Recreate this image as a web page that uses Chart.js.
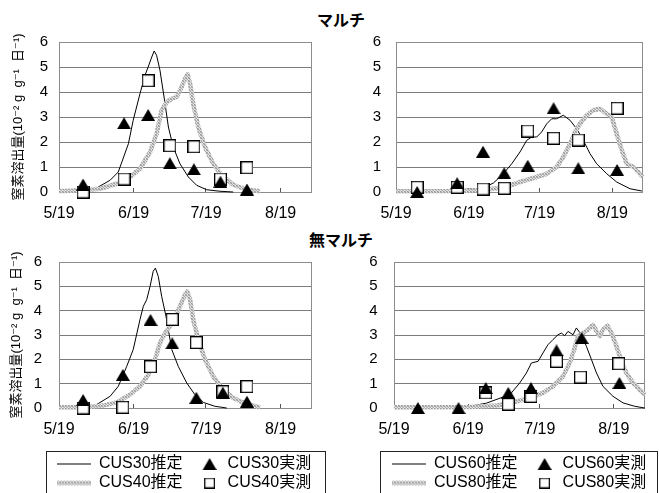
<!DOCTYPE html>
<html lang="ja">
<head>
<meta charset="utf-8">
<title>窒素溶出量</title>
<script src="https://cdn.jsdelivr.net/npm/chart.js@4.4.1/dist/chart.umd.min.js"></script>
<style>
  html, body { margin: 0; padding: 0; background: #fff; overflow: hidden; }
  body { width: 659px; height: 493px; position: relative; }
  canvas { position: absolute; }
  .section { position: absolute; left: 0; width: 682px; text-align: center;
             font: bold 16px 'Noto Sans CJK JP', sans-serif; color: #000; line-height: 20px; }
</style>
</head>
<body>
<div class="section" style="top:9px">マルチ</div>
<div class="section" style="top:229px">無マルチ</div>
<canvas id="c1" width="330" height="226" style="left:0;top:0"></canvas>
<canvas id="c2" width="329" height="226" style="left:330px;top:0"></canvas>
<canvas id="c3" width="330" height="275" style="left:0;top:226px"></canvas>
<canvas id="c4" width="329" height="275" style="left:330px;top:226px"></canvas>
<script>
// x axis: days counted from 5/19
const tickDays = [0, 31, 61, 92];
const tickLabels = ['5/19', '6/19', '7/19', '8/19'];
const dayMax = 105;
const yTitle = '窒素溶出量(10⁻² g  g⁻¹  日⁻¹)';

// ---- マルチ, CUS30 / CUS40 ----
const m30EstDays = [5, 8.7, 15.6, 21.2, 24.6, 28.8, 30.8, 33.6, 35.7, 37, 38.5, 39.5, 40.5, 41.9, 43.6, 45.4, 47.4, 50.2, 53.7, 57.1, 61.3, 66.8, 72.3];
const m30EstVals = [0, 0.04, 0.16, 0.47, 0.8, 1.93, 2.87, 3.93, 4.67, 5.0, 5.4, 5.64, 5.47, 4.87, 3.8, 2.6, 1.8, 1.13, 0.6, 0.27, 0.09, 0.03, 0];
const m40EstDays = [0, 10, 17, 23.9, 29.5, 33.6, 37.8, 40.5, 42.6, 44.7, 46.8, 48.8, 50.9, 52.3, 53.4, 54.4, 55.7, 57.8, 60.6, 64, 67.5, 72.3, 77.9, 83.4];
const m40EstVals = [0.03, 0.07, 0.13, 0.33, 0.6, 0.93, 1.6, 2.33, 3.27, 3.6, 3.73, 3.8, 4.2, 4.53, 4.71, 4.33, 3.53, 2.6, 1.8, 1.13, 0.67, 0.29, 0.09, 0.03];
const mObsDaysA = [10, 27, 37, 46, 56, 67, 78];
const m30Obs = [0.3, 2.75, 3.08, 1.15, 0.91, 0.41, 0.1];
const m40Obs = [0, 0.52, 4.45, 1.85, 1.81, 0.52, 0.97];

// ---- マルチ, CUS60 / CUS80 ----
const m60EstDays = [0, 27.2, 37.1, 41.4, 45.6, 49.2, 52.7, 55.6, 57.7, 59.8, 61.9, 64.1, 66.2, 68.3, 71.1, 74, 76.8, 79.6, 82.5, 85.3, 89.6, 93.8, 99.5, 104.5];
const m60EstVals = [0, 0.09, 0.16, 0.36, 0.73, 1.13, 1.6, 2.07, 2.2, 2.2, 2.4, 2.73, 2.93, 2.93, 3.07, 2.87, 2.53, 2.07, 1.53, 1.13, 0.73, 0.4, 0.13, 0.04];
const m80EstDays = [0, 28.6, 37.1, 45.6, 52.7, 59.8, 64.1, 68.3, 71.1, 74, 76.1, 78.2, 81.1, 83.9, 86.7, 89.6, 91.7, 93.8, 96, 98.1, 100.9, 103, 104.9];
const m80EstVals = [0.03, 0.04, 0.09, 0.17, 0.4, 0.6, 0.73, 1.0, 1.4, 1.93, 2.4, 2.73, 3.07, 3.27, 3.33, 3.13, 3.0, 2.33, 1.67, 1.13, 1.0, 0.8, 0.6];
const mObsDaysB = [9, 26, 37, 46, 56, 67, 77.5, 94];
const m60Obs = [0, 0.35, 1.61, 0.75, 1.05, 3.35, 0.95, 0.88];
const m80Obs = [0.19, 0.19, 0.12, 0.15, 2.44, 2.15, 2.08, 3.35];

// ---- 無マルチ, CUS30 / CUS40 ----
const n30EstDays = [5, 10, 15.6, 21.2, 24.6, 28.1, 30.8, 33.6, 35, 36.4, 37.8, 39.1, 40, 41.2, 42.6, 44.4, 46.8, 49.5, 53, 56.4, 59.9, 64.7, 69.6];
const n30EstVals = [0, 0, 0.14, 0.48, 0.89, 1.71, 2.4, 3.63, 4.18, 4.45, 5.0, 5.62, 5.75, 5.41, 4.59, 3.77, 2.4, 1.71, 1.03, 0.55, 0.23, 0.07, 0];
const n40EstDays = [0, 10, 18.4, 23.9, 29.5, 33.6, 37.1, 39.8, 41.9, 44, 46.1, 48.1, 50.2, 52.3, 53.2, 54.4, 55.7, 57.8, 60.6, 64, 68.2, 72.3, 77.9, 83.4];
const n40EstVals = [0.03, 0.03, 0.1, 0.23, 0.55, 0.89, 1.37, 1.99, 2.67, 3.08, 3.36, 3.7, 4.18, 4.66, 4.79, 4.45, 3.63, 2.81, 1.99, 1.3, 0.75, 0.41, 0.16, 0.03];
const nObsDaysA = [10, 26.5, 38, 47, 57, 68, 78];
const n30Obs = [0.33, 1.36, 3.62, 2.66, 0.42, 0.63, 0.26];
const n40Obs = [0, 0.03, 1.7, 3.64, 2.69, 0.67, 0.88];

// ---- 無マルチ, CUS60 / CUS80 ----
const n60EstDays = [0, 31.7, 38.7, 45.6, 49.1, 52.6, 55.4, 57.5, 60.3, 62.3, 64.4, 66.5, 68.6, 70, 71.4, 72.8, 74.9, 76.3, 78.4, 80.5, 82.6, 84.7, 87.4, 91.6, 95.8, 100.7, 104.9];
const n60EstVals = [0, 0.07, 0.2, 0.45, 0.62, 1.03, 1.44, 1.85, 1.92, 2.26, 2.6, 2.81, 3.01, 3.08, 2.97, 3.15, 3.01, 3.29, 3.01, 2.53, 1.99, 1.44, 0.89, 0.48, 0.21, 0.07, 0];
const n80EstDays = [0, 31.7, 43.3, 51.2, 56.8, 62.3, 66.5, 70.7, 73.5, 75.6, 77, 79.1, 81.2, 83.3, 84.7, 86.1, 87.4, 89.3, 91, 93.1, 95.1, 97.2, 100, 102.8, 105];
const n80EstVals = [0.03, 0.04, 0.1, 0.27, 0.41, 0.62, 0.89, 1.3, 1.85, 2.47, 2.95, 3.08, 3.22, 3.42, 3.15, 2.95, 3.22, 3.38, 3.08, 2.53, 1.92, 1.44, 1.03, 0.75, 0.55];
const n60ObsDays = [10, 27, 38.4, 47.8, 57.3, 68, 78.5, 94.3];
const n60Obs = [0, 0, 0.82, 0.62, 0.82, 2.37, 2.88, 1.03];
const n80ObsDays = [38.4, 47.8, 57.3, 68, 78, 94];
const n80Obs = [0.62, 0.16, 0.48, 1.92, 1.27, 1.82];

const FONT = "'Liberation Sans', 'Noto Sans CJK JP', 'DejaVu Sans', sans-serif";
Chart.defaults.font.family = FONT;
Chart.defaults.color = '#000';

const toPoints = (days, vals) => days.map((d, i) => ({ x: d, y: vals[i] }));

// textured grey stroke used for the second estimate curve
function grayPattern(ctx) {
  const p = document.createElement('canvas');
  p.width = 3; p.height = 3;
  const g = p.getContext('2d');
  const cols = [['#9c9c9c', '#d4d4d4', '#b8b8b8'],
                ['#d4d4d4', '#aeaeae', '#e6e6e6'],
                ['#b8b8b8', '#e6e6e6', '#969696']];
  for (let y = 0; y < 3; y++) for (let x = 0; x < 3; x++) { g.fillStyle = cols[y][x]; g.fillRect(x, y, 1, 1); }
  return ctx.createPattern(p, 'repeat');
}

function triangleGlyph(shift) {
  const w = 14, h = 12;
  const c = document.createElement('canvas');
  c.width = w + 2 * Math.abs(shift); c.height = h;
  const g = c.getContext('2d');
  const cx = c.width / 2 + shift;
  g.fillStyle = '#000';
  g.beginPath(); g.moveTo(cx, 0); g.lineTo(cx + w / 2, h); g.lineTo(cx - w / 2, h); g.closePath(); g.fill();
  return c;
}
function squareGlyph(shift, size) {
  const c = document.createElement('canvas');
  c.width = size + 2 * Math.abs(shift); c.height = size;
  const g = c.getContext('2d');
  const x0 = c.width / 2 + shift - size / 2;
  g.fillStyle = '#fff'; g.fillRect(x0, 0, size, size);
  g.strokeStyle = '#000'; g.lineWidth = 1.3;
  g.strokeRect(x0 + 0.65, 0.65, size - 1.3, size - 1.3);
  return c;
}
function lineGlyph(stroke, width) {
  const c = document.createElement('canvas');
  c.width = 34; c.height = 7;
  const g = c.getContext('2d');
  g.fillStyle = stroke;
  g.fillRect(0, 3.5 - width / 2, 34, width);
  return c;
}

// plot frame around the chart area
const framePlugin = {
  id: 'frame',
  beforeDatasetsDraw(chart) {
    const { ctx, chartArea: a } = chart;
    ctx.save();
    ctx.strokeStyle = '#8c8c8c';
    ctx.lineWidth = 1;
    ctx.strokeRect(Math.round(a.left) + 0.5, Math.round(a.top) + 0.5,
                   Math.round(a.right - a.left) - 1, Math.round(a.bottom - a.top));
    ctx.restore();
  }
};
// legend placement under the plot, plus its outline
const legendFramePlugin = {
  id: 'legendFrame',
  afterLayout(chart, args, opts) {
    const L = chart.legend;
    if (!L || opts.left == null) return;
    const w = L.right - L.left;
    L.left = opts.left;
    L.right = opts.left + w;
  },
  afterDraw(chart, args, opts) {
    if (!opts.rect) return;
    const [x, y, w, h] = opts.rect;
    const ctx = chart.ctx;
    ctx.save();
    ctx.strokeStyle = '#222';
    ctx.lineWidth = 1;
    ctx.strokeRect(x + 0.5, y + 0.5, w, h);
    ctx.restore();
  }
};

function makePanel(id, names, estA, estB, obsA, obsB, geo) {
  const canvas = document.getElementById(id);
  const ctx = canvas.getContext('2d');
  const pattern = grayPattern(ctx);
  const tri = triangleGlyph(0);
  const sq = squareGlyph(0, 13);
  const glyphs = {};
  glyphs[names[0]] = lineGlyph('#000', 1);
  glyphs[names[1]] = triangleGlyph(geo.legendShift || 0);
  glyphs[names[2]] = lineGlyph(pattern, 4.5);
  glyphs[names[3]] = squareGlyph(geo.legendShift || 0, 11);

  const datasets = [
    { label: names[0], data: estA, borderColor: '#000', borderWidth: 1, pointRadius: 0, tension: 0, order: 3, clip: false },
    { label: names[2], data: estB, borderColor: pattern, borderWidth: 4.5, pointRadius: 0, tension: 0, order: 2, clip: false, borderJoinStyle: 'round' },
    { label: names[3], data: obsB, showLine: false, pointStyle: sq, pointRadius: 6, order: 1, clip: false },
    { label: names[1], data: obsA, showLine: false, pointStyle: tri, pointRadius: 6, order: 0, clip: false }
  ];

  const scales = {
    x: {
      type: 'linear', min: 0, max: dayMax,
      afterBuildTicks: s => { s.ticks = tickDays.map(v => ({ value: v })); },
      afterFit: s => { s.height = geo.xHeight; },
      grid: { drawOnChartArea: false, drawTicks: true, tickLength: -4, color: '#555' },
      border: { display: false },
      ticks: { autoSkip: false, maxRotation: 0, padding: 16.4, font: { size: 16 },
               callback: v => tickLabels[tickDays.indexOf(v)] }
    },
    y: {
      min: 0, max: 6,
      afterFit: s => { s.width = geo.yWidth; },
      grid: { drawTicks: false, color: c => (c.tick.value === 0 || c.tick.value === 6) ? 'rgba(0,0,0,0)' : '#7c7c7c' },
      border: { display: false },
      ticks: { stepSize: 1, padding: geo.yTickPad, font: { size: 15 } },
      title: { display: !!geo.yTitle, text: yTitle, font: { size: 13 },
               padding: { top: geo.yTitlePad || 0, bottom: 0 } }
    }
  };
  if (geo.rightGap) {
    scales.gap = { type: 'linear', position: 'right', display: true,
                   ticks: { display: false }, grid: { display: false }, border: { display: false },
                   afterFit: s => { s.width = geo.rightGap; } };
  }

  return new Chart(canvas, {
    type: 'line',
    data: { datasets },
    options: {
      responsive: false,
      animation: false,
      events: [],
      layout: { padding: geo.padding, autoPadding: false },
      scales,
      plugins: {
        tooltip: { enabled: false },
        legend: {
          display: !!geo.legend,
          position: 'bottom',
          align: 'start',
          labels: {
            usePointStyle: true, pointStyleWidth: 34, padding: 3,
            font: { size: 16 }, color: '#000',
            generateLabels(chart) {
              const items = Chart.defaults.plugins.legend.labels.generateLabels(chart);
              items.forEach(it => { it.pointStyle = glyphs[it.text]; });
              return items;
            },
            sort: (a, b) => names.indexOf(a.text) - names.indexOf(b.text)
          }
        },
        legendFrame: { rect: geo.legendRect || null, left: geo.legendLeft }
      }
    },
    plugins: [framePlugin, legendFramePlugin]
  });
}

makePanel('c1', ['CUS30推定', 'CUS30実測', 'CUS40推定', 'CUS40実測'],
  toPoints(m30EstDays, m30EstVals), toPoints(m40EstDays, m40EstVals),
  toPoints(mObsDaysA, m30Obs), toPoints(mObsDaysA, m40Obs),
  { padding: { left: 0, top: 42, right: 18, bottom: 0 }, yWidth: 59, yTickPad: 11,
    yTitle: true, yTitlePad: 10.2, xHeight: 34 });

makePanel('c2', ['CUS60推定', 'CUS60実測', 'CUS80推定', 'CUS80実測'],
  toPoints(m60EstDays, m60EstVals), toPoints(m80EstDays, m80EstVals),
  toPoints(mObsDaysB, m60Obs), toPoints(mObsDaysB, m80Obs),
  { padding: { left: 0, top: 42, right: 16, bottom: 0 }, yWidth: 66, yTickPad: 15,
    xHeight: 34 });

makePanel('c3', ['CUS30推定', 'CUS30実測', 'CUS40推定', 'CUS40実測'],
  toPoints(n30EstDays, n30EstVals), toPoints(n40EstDays, n40EstVals),
  toPoints(nObsDaysA, n30Obs), toPoints(nObsDaysA, n40Obs),
  { padding: { left: 0, top: 36, right: 0, bottom: 0 }, yWidth: 59, yTickPad: 17,
    yTitle: true, yTitlePad: 8.9, xHeight: 45, rightGap: 18,
    legend: true, legendLeft: 54, legendShift: 7, legendRect: [46, 225, 279, 60] });

makePanel('c4', ['CUS60推定', 'CUS60実測', 'CUS80推定', 'CUS80実測'],
  toPoints(n60EstDays, n60EstVals), toPoints(n80EstDays, n80EstVals),
  toPoints(n60ObsDays, n60Obs), toPoints(n80ObsDays, n80Obs),
  { padding: { left: 0, top: 36, right: 0, bottom: 0 }, yWidth: 64, yTickPad: 16.3,
    xHeight: 45, rightGap: 14,
    legend: true, legendLeft: 59, legendShift: 7, legendRect: [50, 225, 277, 60] });
</script>
</body>
</html>
